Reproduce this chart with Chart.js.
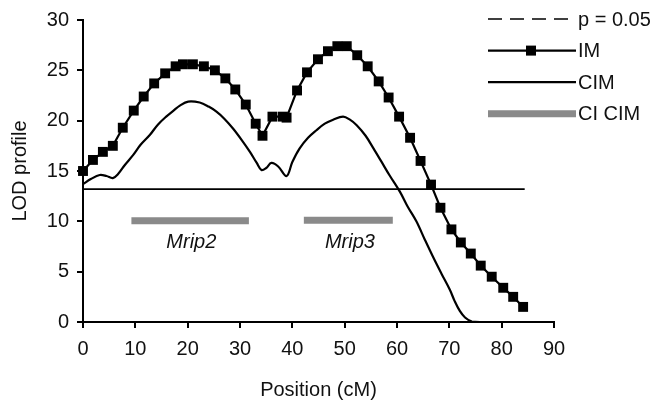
<!DOCTYPE html>
<html>
<head>
<meta charset="utf-8">
<script src="https://cdn.jsdelivr.net/npm/chart.js@4/dist/chart.umd.min.js"></script>
<style>
  html, body { margin: 0; padding: 0; background: #fff; }
  #wrap { width: 664px; height: 404px; }
</style>
</head>
<body>
<div id="wrap"><canvas id="chart"></canvas></div>
<script>
// LOD profile, interval mapping (IM) markers
const imPos = [0, 1.9, 3.8, 5.7, 7.6, 9.7, 11.6, 13.6, 15.7, 17.7, 19.1, 21.0, 23.1, 25.2, 27.2,
  29.1, 31.1, 33.0, 34.3, 36.2, 38.2, 38.9, 40.9, 42.8, 44.9, 46.8, 48.6, 50.4, 52.4, 54.4,
  56.5, 58.4, 60.4, 62.5, 64.5, 66.5, 68.3, 70.4, 72.2, 74.1, 76.0, 78.1, 80.3, 82.2, 84.1];
const imLod = [15.0, 16.1, 16.9, 17.5, 19.3, 21.0, 22.4, 23.7, 24.7, 25.4, 25.6, 25.6, 25.4, 25.0, 24.2,
  23.1, 21.6, 19.7, 18.5, 20.4, 20.4, 20.3, 23.0, 24.8, 26.1, 26.9, 27.4, 27.4, 26.5, 25.4,
  23.9, 22.3, 20.4, 18.3, 16.0, 13.65, 11.35, 9.2, 7.9, 6.8, 5.6, 4.5, 3.4, 2.5, 1.5];

// composite interval mapping (CIM)
const cimPos = [0, 1.5, 3.2, 4.5, 5.7, 6.7, 8, 9.6, 11, 12.8, 14.3, 15.9, 17.3, 18.5, 20.1, 22.3,
  24, 25.5, 27, 28.7, 30.3, 31.9, 33.2, 34.1, 35, 36.0, 37.3, 38.9, 40, 41.4, 43, 44.6, 46.2,
  47.8, 49.7, 51, 52.3, 54, 55.5, 57, 58.6, 60.6, 62, 63.7, 65.3, 66.9, 68.5, 70.1, 71, 72,
  73, 74.3, 76, 84.1];
const cimLod = [13.7, 14.2, 14.6, 14.5, 14.3, 14.7, 15.6, 16.6, 17.6, 18.6, 19.6, 20.4, 21.0, 21.5, 21.9, 21.8,
  21.4, 20.9, 20.2, 19.2, 18.1, 16.9, 15.8, 15.1, 15.3, 15.8, 15.45, 14.5, 15.9, 17.25, 18.3, 19.05, 19.7,
  20.1, 20.4, 20.1, 19.55, 18.5, 17.25, 15.95, 14.55, 12.9, 11.5, 10.0, 8.2, 6.45, 4.8, 3.2, 2.1, 1.1,
  0.45, 0.05, 0, 0];

// significance threshold
const threshold = 13.2;
const thresholdRange = [0, 84.4];

// confidence intervals of CIM
const ciNames = ['Mrip2', 'Mrip3'];
const ciStart = [9.25, 42.2];
const ciEnd = [31.7, 59.2];
const ciLod = [10.05, 10.1];
const ciLabelPos = [20.7, 51];
const ciLabelLod = 7.9;

const xTicks = [0, 10, 20, 30, 40, 50, 60, 70, 80, 90];
const yTicks = [0, 5, 10, 15, 20, 25, 30];

const FONT = 'Liberation Sans, Arial, Helvetica, sans-serif';
const GREY = '#8a8a8a';

const zip = (xs, ys) => xs.map((x, i) => ({ x: x, y: ys[i] }));

const datasets = [
  {
    label: 'p = 0.05',
    data: thresholdRange.map(x => ({ x: x, y: threshold })),
    borderColor: '#000', borderWidth: 1.6, pointRadius: 0, legendKind: 'dash'
  },
  {
    label: 'IM',
    data: zip(imPos, imLod),
    borderColor: '#000', borderWidth: 2.2,
    pointStyle: 'rect', pointRadius: 7, pointBackgroundColor: '#000', pointBorderWidth: 0,
    legendKind: 'marker', clip: 10
  },
  {
    label: 'CIM',
    data: zip(cimPos, cimLod),
    borderColor: '#000', borderWidth: 2.2, pointRadius: 0, tension: 0.35,
    legendKind: 'line', clip: 10
  }
];
ciNames.forEach((name, i) => {
  datasets.push({
    label: i === 0 ? 'CI CIM' : '',
    data: [{ x: ciStart[i], y: ciLod[i] }, { x: ciEnd[i], y: ciLod[i] }],
    borderColor: GREY, borderWidth: 7, borderCapStyle: 'butt', pointRadius: 0,
    legendKind: i === 0 ? 'thick' : null
  });
});

// QTL names under the interval bars
const qtlLabels = {
  id: 'qtlLabels',
  afterDatasetsDraw(chart) {
    const { ctx, scales: { x, y } } = chart;
    ctx.save();
    ctx.fillStyle = '#111';
    ctx.font = 'italic 20px ' + FONT;
    ctx.textAlign = 'center';
    ctx.textBaseline = 'middle';
    ciNames.forEach((name, i) => {
      ctx.fillText(name, x.getPixelForValue(ciLabelPos[i]), y.getPixelForValue(ciLabelLod));
    });
    ctx.restore();
  }
};

// legend drawn inside the upper right corner
const sideLegend = {
  id: 'sideLegend',
  afterDraw(chart) {
    const ctx = chart.ctx;
    const x0 = 488, x1 = 576, rowTop = 19, rowGap = 31.6;
    ctx.save();
    ctx.font = '20px ' + FONT;
    ctx.textBaseline = 'middle';
    ctx.fillStyle = '#111';
    let row = 0;
    chart.data.datasets.forEach(ds => {
      if (!ds.legendKind) return;
      const yy = rowTop + row * rowGap;
      ctx.beginPath();
      if (ds.legendKind === 'dash') {
        ctx.setLineDash([14, 8]);
        ctx.lineWidth = 1.6;
      } else if (ds.legendKind === 'thick') {
        ctx.lineWidth = 7;
        ctx.setLineDash([]);
      } else {
        ctx.lineWidth = 2.2;
        ctx.setLineDash([]);
      }
      ctx.strokeStyle = ds.borderColor;
      ctx.moveTo(x0, yy);
      ctx.lineTo(x1, yy);
      ctx.stroke();
      ctx.setLineDash([]);
      if (ds.legendKind === 'marker') {
        ctx.fillStyle = '#000';
        ctx.fillRect(531 - 5, yy - 5, 10, 10);
        ctx.fillStyle = '#111';
      }
      ctx.fillText(ds.label, x1 + 2, yy + 1);
      row++;
    });
    ctx.restore();
  }
};

new Chart(document.getElementById('chart'), {
  type: 'line',
  data: { datasets: datasets },
  options: {
    responsive: true,
    maintainAspectRatio: false,
    animation: false,
    events: [],
    layout: { padding: { top: 17, right: 110, left: 0, bottom: 0 } },
    plugins: { legend: { display: false }, tooltip: { enabled: false } },
    scales: {
      x: {
        type: 'linear', min: 0, max: 90,
        afterFit: s => { s.height = 82; },
        afterBuildTicks: s => { s.ticks = xTicks.map(v => ({ value: v })); },
        border: { color: '#000', width: 2 },
        grid: { drawOnChartArea: false, drawTicks: true, tickLength: 6, color: '#000', lineWidth: 2 },
        ticks: { color: '#111', font: { family: FONT, size: 20 }, padding: 9, maxRotation: 0 },
        title: { display: true, text: 'Position (cM)', color: '#111', font: { family: FONT, size: 20 }, padding: { top: 0, bottom: 2 } }
      },
      y: {
        type: 'linear', min: 0, max: 30,
        afterFit: s => { s.width = 83; },
        afterBuildTicks: s => { s.ticks = yTicks.map(v => ({ value: v })); },
        border: { color: '#000', width: 2 },
        grid: { drawOnChartArea: false, drawTicks: true, tickLength: 6, color: '#000', lineWidth: 2 },
        ticks: { color: '#111', font: { family: FONT, size: 20 }, padding: 8 },
        title: { display: true, text: 'LOD profile', color: '#111', font: { family: FONT, size: 20 }, padding: { top: 8, bottom: 0 } }
      }
    }
  },
  plugins: [qtlLabels, sideLegend]
});
</script>
</body>
</html>
